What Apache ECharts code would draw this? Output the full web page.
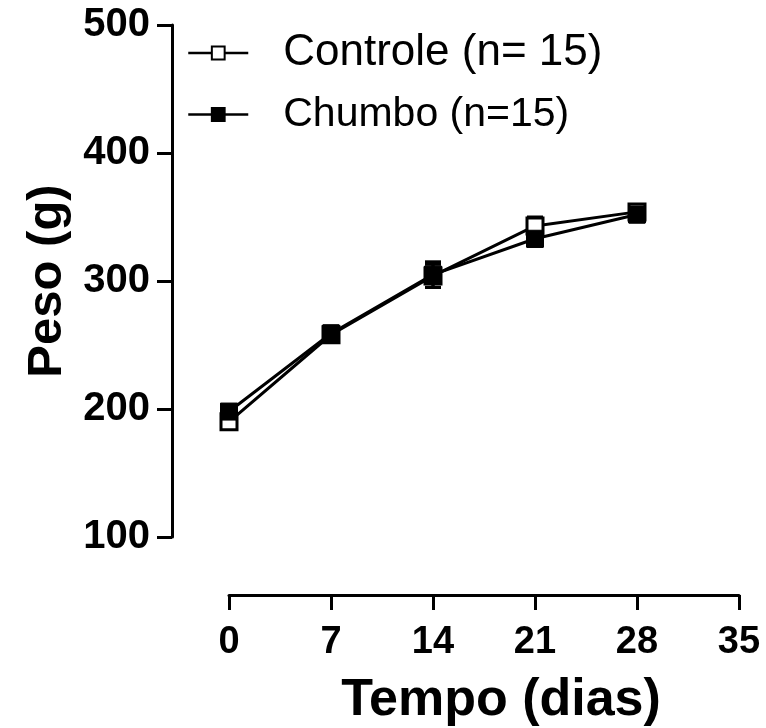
<!DOCTYPE html>
<html>
<head>
<meta charset="utf-8">
<script src="https://cdn.jsdelivr.net/npm/echarts@6/dist/echarts.min.js"></script>
<style>
  html, body { margin: 0; padding: 0; background: #fff; }
  #chart { width: 766px; height: 728px; }
</style>
</head>
<body>
<div id="chart"></div>
<script>
const dias = [0, 7, 14, 21, 28]
const controle = [190, 258, 304, 343, 354]
const controleErro = [4, 5, 9, 7, 5]
const chumbo = [198, 259, 305, 333, 352]
const chumboErro = [5, 6, 10, 6, 6]
const xTicks = [0, 7, 14, 21, 28, 35]
const yTicks = [100, 200, 300, 400, 500]

const font = '"Liberation Sans", Arial, sans-serif'
const chart = echarts.init(document.getElementById('chart'))

// barras de erro (media +- erro) desenhadas como custom series
const errorSeries = (vals, errs) => ({
  type: 'custom',
  z: 1,
  silent: true,
  data: dias.map((d, i) => [d, vals[i] - errs[i], vals[i] + errs[i]]),
  renderItem: (params, api) => {
    const lo = api.coord([api.value(0), api.value(1)])
    const hi = api.coord([api.value(0), api.value(2)])
    const w = 8
    const style = { stroke: '#000', lineWidth: 3 }
    return {
      type: 'group',
      children: [
        { type: 'line', shape: { x1: hi[0], y1: hi[1], x2: lo[0], y2: lo[1] }, style },
        { type: 'line', shape: { x1: hi[0] - w, y1: hi[1], x2: hi[0] + w, y2: hi[1] }, style },
        { type: 'line', shape: { x1: lo[0] - w, y1: lo[1], x2: lo[0] + w, y2: lo[1] }, style }
      ]
    }
  }
})

const option = {
  backgroundColor: '#fff',
  animation: false,
  grid: { left: 229, right: 27, top: 25, bottom: 191, outerBoundsMode: 'none' },
  legend: {
    orient: 'vertical',
    left: 182,
    top: 26,
    itemWidth: 60,
    itemHeight: 16,
    itemGap: 19,
    lineStyle: { width: 2.5 },
    textStyle: { fontFamily: font, color: '#000', padding: [0, 0, 0, 30] },
    data: [
      { name: 'Controle (n= 15)', textStyle: { fontSize: 44 } },
      { name: 'Chumbo (n=15)', textStyle: { fontSize: 41 } }
    ]
  },
  xAxis: {
    type: 'value',
    min: 0,
    max: 35,
    interval: 7,
    offset: 58,
    splitLine: { show: false },
    axisLine: { onZero: false, lineStyle: { color: '#000', width: 3 } },
    axisTick: { length: 15, lineStyle: { color: '#000', width: 3 } },
    axisLabel: {
      margin: 29, color: '#000', fontFamily: font, fontWeight: 'bold', fontSize: 38,
      customValues: xTicks
    },
    name: 'Tempo (dias)',
    nameLocation: 'middle',
    nameGap: 80,
    nameMoveOverlap: false,
    nameTextStyle: {
      color: '#000', fontFamily: font, fontWeight: 'bold', fontSize: 52,
      padding: [0, 0, 0, 34]
    }
  },
  yAxis: {
    type: 'value',
    min: 100,
    max: 500,
    interval: 100,
    offset: 57,
    splitLine: { show: false },
    axisLine: { show: true, onZero: false, lineStyle: { color: '#000', width: 3 } },
    axisTick: { show: true, length: 15, lineStyle: { color: '#000', width: 3 } },
    axisLabel: {
      margin: 22, color: '#000', fontFamily: font, fontWeight: 'bold', fontSize: 40,
      customValues: yTicks
    },
    name: 'Peso (g)',
    nameLocation: 'middle',
    nameGap: 100,
    nameMoveOverlap: false,
    nameTextStyle: { color: '#000', fontFamily: font, fontWeight: 'bold', fontSize: 49 }
  },
  series: [
    errorSeries(controle, controleErro),
    errorSeries(chumbo, chumboErro),
    {
      name: 'Controle (n= 15)',
      type: 'line',
      z: 2,
      data: dias.map((d, i) => [d, controle[i]]),
      symbol: 'rect',
      symbolSize: 16,
      lineStyle: { color: '#000', width: 3 },
      itemStyle: { color: '#fff', borderColor: '#000', borderWidth: 3 }
    },
    {
      name: 'Chumbo (n=15)',
      type: 'line',
      z: 3,
      data: dias.map((d, i) => [d, chumbo[i]]),
      symbol: 'rect',
      symbolSize: 17,
      lineStyle: { color: '#000', width: 3 },
      itemStyle: { color: '#000', borderColor: '#000', borderWidth: 1 }
    }
  ]
}

chart.setOption(option)
</script>
</body>
</html>
